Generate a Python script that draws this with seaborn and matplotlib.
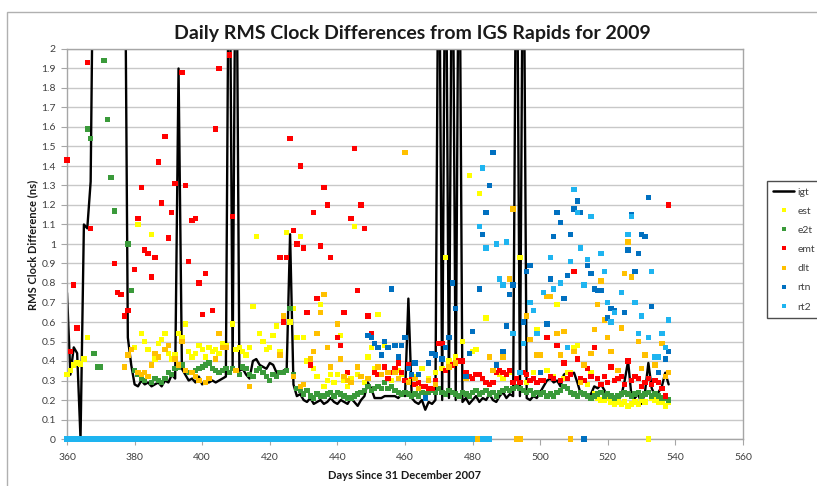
import matplotlib
matplotlib.use("Agg")
import matplotlib.pyplot as plt
import seaborn as sns
import pandas as pd
from matplotlib.lines import Line2D
from matplotlib.patches import Rectangle

# ---------------- data ----------------
igt_days = list(range(360, 539))
igt_vals = [
    0.75, 0.33, 0.47, 0.44, 0.00, 1.10, 1.08, 1.32, 3.0, 3.0,
    3.0, 3.0, 3.0, 3.0, 3.0, 3.0, 3.0, 3.0, 0.52, 0.38,
    0.28, 0.27, 0.30, 0.28, 0.29, 0.27, 0.28, 0.29, 0.27, 0.30,
    0.29, 0.33, 0.31, 1.90, 0.36, 0.33, 0.30, 0.31, 0.29, 0.32,
    0.28, 0.29, 0.29, 0.30, 0.29, 0.30, 0.31, 0.32, 3.0, 0.37,
    3.0, 0.35, 0.36, 0.33, 0.31, 0.40, 0.41, 0.38, 0.37, 0.36,
    0.39, 0.38, 0.34, 0.34, 0.35, 0.36, 1.05, 0.28, 0.22, 0.23,
    0.20, 0.19, 0.21, 0.18, 0.19, 0.20, 0.18, 0.19, 0.21, 0.19,
    0.18, 0.20, 0.19, 0.18, 0.21, 0.19, 0.17, 0.20, 0.22, 0.29,
    0.26, 0.21, 0.21, 0.21, 0.22, 0.22, 0.22, 0.22, 0.21, 0.23,
    0.22, 0.72, 0.21, 0.19, 0.18, 0.20, 0.15, 0.19, 0.18, 0.20,
    3.0, 0.20, 3.0, 0.21, 3.0, 0.20, 3.0, 0.19, 0.21, 0.18,
    0.20, 0.22, 0.19, 0.21, 0.20, 0.23, 0.20, 0.19, 0.22, 0.24,
    0.21, 0.23, 0.22, 3.0, 0.22, 3.0, 0.21, 0.20, 0.22, 0.21,
    0.24, 0.27, 0.30, 0.31, 0.29, 0.30, 0.27, 0.33, 0.34, 0.33,
    0.34, 0.29, 0.23, 0.24, 0.22, 0.23, 0.27, 0.26, 0.28, 0.25,
    0.21, 0.22, 0.20, 0.21, 0.22, 0.30, 0.40, 0.22, 0.21, 0.23,
    0.18, 0.24, 0.39, 0.26, 0.22, 0.24, 0.27, 0.34, 0.28,
]

est_days = [360, 361, 362, 363, 364, 365, 366,
            380, 381, 382, 383, 384, 385, 386, 387, 388, 389, 390, 391, 392, 393, 394, 395,
            396, 397, 398, 399, 400, 401, 402, 403, 404, 405, 406, 407, 409, 410, 411, 412,
            413, 414, 415, 416, 417, 418, 419, 420, 421, 422, 423, 425, 426, 427, 428, 429,
            430, 431, 433, 434, 435, 436, 437, 438, 439, 440, 441, 442, 443, 444, 445, 446,
            448, 449, 450, 451, 452, 453, 454, 456, 458, 459, 461, 463, 465, 467, 469, 471,
            472, 473, 475, 477, 479, 480, 481, 482, 484, 486, 488, 489, 491, 494, 496, 498,
            499, 500, 502, 504, 505, 507, 508, 509, 510, 511, 512, 514, 515, 516, 517, 518,
            519, 520, 521, 522, 523, 524, 525, 526, 527, 528, 529, 530, 531, 532, 533, 534,
            535, 536, 537, 538]
est_vals = [0.33, 0.35, 0.38, 0.39, 0.385, 0.41, 0.52,
            0.47, 1.10, 0.54, 0.50, 0.46, 1.05, 0.41, 0.49, 0.51, 0.54, 0.44, 0.41, 0.43, 0.54, 0.52, 0.59,
            0.45, 0.42, 0.44, 0.48, 0.46, 0.42, 0.47, 0.45, 0.46, 0.44, 0.49, 0.48, 0.59, 0.46, 0.47, 0.45,
            0.43, 0.47, 0.68, 1.04, 0.54, 0.50, 0.46, 0.47, 0.53, 0.58, 0.45, 1.06, 0.60, 0.67, 0.52, 1.04,
            0.52, 0.40, 0.36, 0.32, 0.69, 0.27, 0.30, 0.33, 0.29, 0.33, 0.53, 0.30, 0.27, 0.31, 1.09, 0.33,
            0.29, 0.42, 0.47, 0.36, 0.64, 0.33, 0.48, 0.30, 0.35, 0.33, 0.30, 0.32, 0.36, 0.31, 0.34, 0.36,
            0.93, 0.40, 0.42, 0.50, 1.35, 0.45, 0.46, 1.26, 0.62, 0.35, 0.33, 0.31, 0.34, 0.93, 0.29, 0.34,
            0.56, 0.43, 0.35, 0.32, 0.69, 0.31, 0.34, 0.34, 0.47, 0.48, 0.30, 0.28, 0.34, 0.23, 0.21, 0.20,
            0.20, 0.21, 0.19, 0.18, 0.19, 0.18, 0.19, 0.17, 0.18, 0.19, 0.18, 0.20, 0.19, 0.00, 0.21, 0.20,
            0.19, 0.19, 0.17, 0.19]

e2t_days = [366, 367, 368, 369, 370, 371, 372, 373, 374, 378, 379] + list(range(380, 539))
e2t_vals = [1.59, 1.54, 0.44, 0.37, 0.37, 1.94, 1.64, 1.34, 1.17, 1.00, 0.76,
            0.35, 0.33, 0.31, 0.30, 0.32, 0.29, 0.31, 0.30, 0.29, 0.31,
            0.34, 0.33, 0.36, 0.37, 0.38, 0.35, 0.34, 0.34, 0.35, 0.36,
            0.37, 0.38, 0.39, 0.36, 0.35, 0.34, 0.35, 0.36, 0.34, 0.36,
            0.35, 0.33, 0.37, 0.36, 0.33, 0.32, 0.35, 0.36, 0.34, 0.32,
            0.30, 0.33, 0.32, 0.34, 0.34, 0.35, 0.67, 0.33, 0.26, 0.25,
            0.23, 0.25, 0.22, 0.21, 0.23, 0.22, 0.22, 0.23, 0.24, 0.22,
            0.24, 0.23, 0.22, 0.21, 0.21, 0.22, 0.23, 0.24, 0.25, 0.27,
            0.25, 0.26, 0.27, 0.26, 0.29, 0.26, 0.27, 0.25, 0.24, 0.23,
            0.24, 0.23, 0.22, 0.23, 0.22, 0.24, 0.23, 0.24, 0.25, 0.24,
            0.26, 0.24, 0.23, 0.25, 0.24, 0.23, 0.22, 0.24, 0.23, 0.22,
            0.24, 0.25, 0.23, 0.24, 0.25, 0.23, 0.24, 0.22, 0.24, 0.25,
            0.26, 0.25, 0.26, 0.27, 0.26, 0.25, 0.24, 0.25, 0.23, 0.24,
            0.23, 0.24, 0.22, 0.23, 0.22, 0.24, 0.25, 0.27, 0.26, 0.24,
            0.23, 0.22, 0.24, 0.23, 0.22, 0.21, 0.22, 0.23, 0.24, 0.22,
            0.23, 0.22, 0.21, 0.22, 0.23, 0.24, 0.23, 0.22, 0.23, 0.24,
            0.22, 0.23, 0.24, 0.22, 0.23, 0.22, 0.21, 0.21, 0.20]

emt_days = [360, 361, 362, 363, 366, 367, 374, 375, 376, 377, 378, 380, 381, 382, 383, 384,
            385, 386, 387, 388, 389, 390, 391, 392, 394, 395, 396, 397, 398, 399, 400, 401,
            403, 404, 405, 408, 409, 423, 424, 425, 426, 427, 428, 429, 430, 431, 432, 433,
            434, 435, 436, 437, 438, 440, 441, 442, 443, 444, 445, 446, 447, 448, 449, 450,
            451, 452, 454, 455, 456, 457, 458, 459, 460, 461, 462, 463, 464, 465, 466, 467,
            468, 469, 470, 471, 472, 473, 474, 475, 476, 477, 478, 479, 480, 481, 482, 483,
            484, 485, 486, 487, 488, 489, 490, 491, 492, 493, 494, 495, 496, 497, 498, 499,
            500, 501, 502, 503, 504, 505, 506, 507, 508, 509, 510, 511, 512, 513, 514, 515,
            516, 517, 518, 519, 520, 521, 522, 523, 524, 525, 526, 527, 528, 529, 530, 531,
            532, 533, 534, 535, 536, 537, 538]
emt_vals = [1.43, 0.45, 0.79, 0.57, 1.93, 1.08, 0.90, 0.75, 0.74, 0.63, 0.66, 0.87, 1.13, 1.29, 0.97, 0.95,
            0.83, 0.93, 1.42, 1.21, 1.55, 1.03, 1.16, 1.31, 1.88, 1.30, 0.91, 1.12, 1.13, 0.80, 0.64, 0.85,
            0.66, 1.59, 1.90, 1.97, 1.14, 0.93, 0.60, 0.93, 1.54, 1.07, 1.00, 1.40, 0.98, 0.65, 0.38, 1.16,
            0.72, 0.99, 1.29, 1.20, 0.93, 0.52, 0.48, 0.65, 0.34, 1.13, 1.49, 0.76, 1.20, 1.08, 0.63, 0.54,
            0.34, 0.33, 0.37, 0.31, 0.34, 0.36, 0.39, 0.34, 0.30, 0.38, 0.32, 0.28, 0.29, 0.27, 0.27, 0.26,
            0.26, 0.30, 0.49, 0.49, 0.35, 0.37, 0.38, 0.39, 0.40, 0.40, 0.34, 0.32, 0.31, 0.33, 0.33, 0.31,
            0.29, 0.28, 0.29, 0.34, 0.35, 0.34, 0.33, 0.35, 0.29, 0.31, 0.29, 0.34, 0.33, 0.30, 0.31, 0.29,
            0.30, 0.30, 0.52, 0.32, 0.31, 0.48, 0.30, 0.39, 0.31, 0.33, 0.86, 0.41, 0.31, 0.30, 0.36, 0.32,
            0.47, 0.31, 0.28, 0.32, 0.29, 0.37, 0.30, 0.31, 0.32, 0.28, 0.40, 0.30, 0.32, 0.31, 0.27, 0.29,
            0.31, 0.28, 0.30, 0.29, 0.26, 0.22, 1.20]

dlt_days = [377, 378, 379, 381, 382, 383, 384, 385, 386, 387, 389, 390, 392, 393, 394, 395,
            397, 398, 399, 401, 402, 404, 405, 406, 407, 410, 414, 423, 424, 427, 429, 430,
            432, 433, 434, 435, 436, 437, 438, 440, 441, 442, 443, 444, 446, 447, 449, 452,
            453, 455, 457, 458, 460, 461, 463, 464, 467, 469, 473, 475, 478, 481, 482, 485,
            486, 489, 490, 491, 492, 493, 494, 496, 497, 499, 500, 502, 503, 505, 506, 507,
            509, 510, 512, 513, 515, 516, 517, 518, 519, 520, 521, 523, 524, 525, 526, 527,
            529, 530, 531, 534, 536, 537, 538]
dlt_vals = [0.37, 0.43, 0.46, 0.34, 0.33, 0.34, 0.32, 0.38, 0.44, 0.42, 0.46, 0.48, 0.41, 0.38, 0.50, 0.35,
            0.34, 0.32, 0.30, 0.29, 0.31, 0.41, 0.54, 0.47, 0.47, 0.35, 0.27, 0.43, 0.63, 0.32, 0.27, 0.28,
            0.41, 0.45, 0.54, 0.65, 0.74, 0.47, 0.37, 0.59, 0.41, 0.32, 0.30, 0.29, 0.37, 0.32, 0.31, 0.37,
            0.33, 0.34, 0.34, 0.31, 1.47, 0.29, 0.31, 0.26, 0.30, 0.28, 0.37, 0.39, 0.31, 0.00, 0.00, 0.42,
            0.35, 0.42, 0.58, 0.82, 1.18, 0.00, 0.00, 0.63, 0.51, 0.43, 0.43, 0.73, 0.73, 0.54, 0.43, 0.55,
            0.00, 0.45, 0.29, 0.38, 0.44, 0.56, 0.69, 0.81, 0.61, 0.52, 0.45, 0.35, 0.57, 0.85, 1.01, 0.83,
            0.50, 0.36, 0.43, 0.38, 0.49, 0.32, 0.34]

rtn_days = [449, 450, 451, 452, 453, 454, 455, 456, 457, 458, 459, 460, 461, 462, 463, 464,
            466, 467, 468, 469, 471, 472, 473, 474, 475, 478, 479, 480, 482, 483, 484, 485,
            486, 487, 489, 490, 491, 492, 495, 496, 497, 500, 502, 503, 504, 505, 506, 507,
            508, 509, 510, 511, 512, 513, 514, 515, 516, 517, 518, 520, 521, 522, 525, 526,
            527, 528, 529, 530, 531, 532, 533, 535, 537, 538]
rtn_vals = [0.53, 0.52, 0.49, 0.47, 0.43, 0.50, 0.47, 0.77, 0.48, 0.42, 0.48, 0.52, 0.36, 0.33, 0.39, 0.33,
            0.21, 0.39, 0.44, 0.43, 0.41, 0.47, 0.52, 0.80, 0.67, 0.32, 0.44, 0.55, 0.77, 1.05, 1.16, 1.30,
            1.47, 0.38, 0.45, 0.58, 0.74, 0.79, 0.60, 0.86, 0.89, 0.34, 0.59, 0.82, 1.04, 1.16, 1.11, 0.72,
            0.84, 1.05, 1.18, 1.22, 1.16, 0.00, 0.89, 0.85, 0.77, 0.76, 0.76, 0.62, 0.67, 0.66, 0.65, 0.97,
            1.15, 0.86, 0.95, 1.05, 1.04, 1.24, 0.68, 0.34, 0.41, 0.45]

rt2_days = list(range(360, 481)) + [483, 484, 485] + [
    482, 483, 484, 487, 488, 489, 490, 492, 494, 495, 497, 498, 499, 501, 503, 504,
    506, 508, 509, 510, 511, 512, 513, 514, 515, 518, 519, 520, 521, 522, 524, 526,
    527, 528, 529, 530, 532, 533, 534, 535, 536, 537, 538]
rt2_vals = [0.0] * 121 + [0.0, 0.0, 0.0] + [
    1.09, 1.39, 0.98, 1.00, 0.82, 0.79, 1.01, 0.54, 0.34, 0.49, 0.70, 0.66, 0.54, 0.75, 0.93, 0.77,
    0.80, 0.47, 0.91, 1.28, 1.16, 0.98, 0.79, 0.92, 1.14, 0.95, 0.86, 0.70, 0.60, 0.65, 0.75, 1.05,
    1.14, 0.70, 0.54, 0.63, 0.52, 0.86, 0.42, 0.42, 0.54, 0.47, 0.61]

series = [
    ("est", est_days, est_vals, "#FFFF00"),
    ("e2t", e2t_days, e2t_vals, "#3A9A3A"),
    ("emt", emt_days, emt_vals, "#FF0000"),
    ("dlt", dlt_days, dlt_vals, "#FFC000"),
    ("rtn", rtn_days, rtn_vals, "#0070C0"),
    ("rt2", rt2_days, rt2_vals, "#1EB4F0"),
]

# ---------------- figure ----------------
sns.set_theme(style="white")
plt.rcParams['font.family'] = ['Lato', 'DejaVu Sans']

W, H = 817, 486
fig = plt.figure(figsize=(W / 100, H / 100), dpi=100)
fig.patch.set_facecolor("white")
fig.add_artist(Rectangle((7 / W, -0.02), 1.0, 1 - 12 / H + 0.02, transform=fig.transFigure,
                         fill=False, edgecolor="#B0B0B0", lw=1.0))

ax = fig.add_axes([67 / W, 47 / H, (743 - 67) / W, (439 - 49) / H])

igt_df = pd.DataFrame({"day": igt_days, "val": igt_vals})
sns.lineplot(data=igt_df, x="day", y="val", color="black", lw=1.7, ax=ax,
             estimator=None, sort=False, zorder=2)

for i, (name, d, v, c) in enumerate(series):
    df = pd.DataFrame({"day": d, "val": v})
    sc = sns.scatterplot(data=df, x="day", y="val", marker="s", s=15, color=c,
                         edgecolor="none", linewidth=0, ax=ax, legend=False, zorder=3 + i)
for coll in ax.collections:
    coll.set_clip_on(False)

ax.set_xlim(360, 560)
ax.set_ylim(0, 2)
ax.set_xticks(range(360, 561, 20))
yt = [round(0.1 * k, 1) for k in range(21)]
ax.set_yticks(yt)
ax.set_yticklabels([f"{t:g}" for t in yt])
ax.yaxis.grid(True, color="#C8C8C8", lw=1.0)
ax.xaxis.grid(False)
ax.set_axisbelow(True)
for s in ax.spines.values():
    s.set_color("#A6A6A6")
    s.set_linewidth(1.0)
ax.tick_params(axis="both", which="both", length=4, width=0.8, color="#A6A6A6",
               labelsize=7.5, labelcolor="#404040", direction="out", pad=3)
ax.tick_params(axis="x", pad=6)
ax.tick_params(axis="y", left=True, pad=4)
ax.tick_params(axis="x", bottom=True)
ax.set_xlabel("")
ax.set_ylabel("")

fig.text(412 / W, 1 - 33 / H, "Daily RMS Clock Differences from IGS Rapids for 2009",
         ha="center", va="center", fontsize=14, fontweight="bold", color="#1A1A1A")
fig.text(33 / W, 1 - 245 / H, "RMS Clock Difference (ns)", rotation=90,
         ha="center", va="center", fontsize=8, fontweight="bold", color="#1A1A1A")
fig.text(405 / W, 1 - 475 / H, "Days Since 31 December 2007",
         ha="center", va="center", fontsize=8, fontweight="bold", color="#1A1A1A")

handles = [Line2D([], [], color="black", lw=1.8, label="igt")]
for name, d, v, c in series:
    handles.append(Line2D([], [], marker="s", ls="none", color=c, markersize=3.5,
                          markeredgewidth=0, label=name))
leg = fig.legend(handles=handles, loc="upper left", bbox_to_anchor=(767 / W, 1 - 181 / H),
                 frameon=True, fancybox=False, edgecolor="#202020", fontsize=7.5,
                 handlelength=2.0, handletextpad=0.3, labelspacing=0.95, borderpad=0.6,
                 borderaxespad=0)
leg.get_frame().set_linewidth(1.0)
for t in leg.get_texts():
    t.set_color("#404040")

fig.savefig("out.png", dpi=100)
